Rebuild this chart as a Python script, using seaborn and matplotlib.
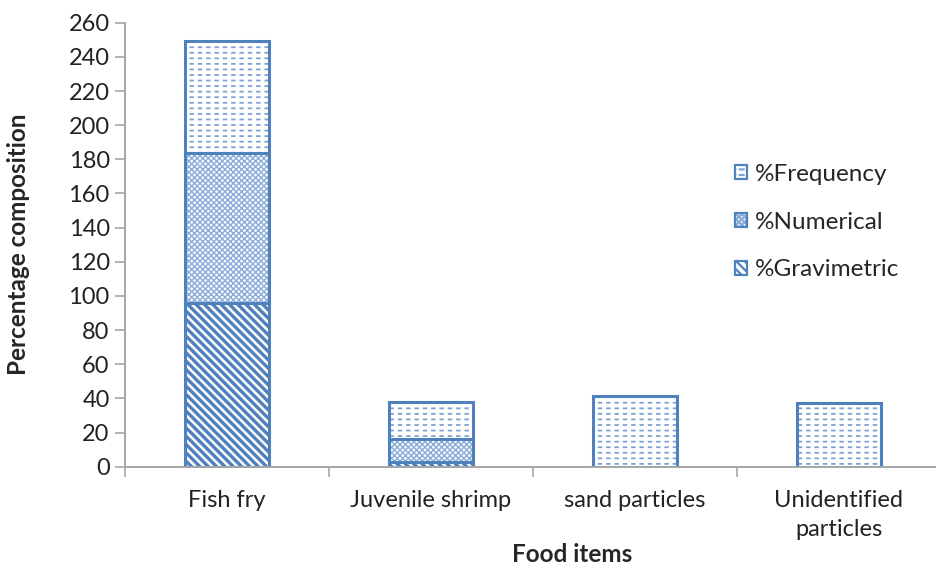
import pandas as pd
import seaborn as sns
import matplotlib.pyplot as plt
from matplotlib.patches import Patch
from matplotlib.legend_handler import HandlerTuple

food_items = ["Fish fry", "Juvenile shrimp", "sand particles",
              "Unidentified\nparticles"]
gravimetric = [95.7, 3.0, 0.0, 0.0]
numerical = [87.8, 13.5, 0.0, 0.0]
frequency = [66.0, 21.2, 41.6, 37.1]

edge_color = "#4F81BD"

sns.set_style("white")
plt.rcParams["font.family"] = ["Lato", "DejaVu Sans"]
plt.rcParams["hatch.linewidth"] = 1.6

df = pd.DataFrame({"item": food_items, "grav": gravimetric,
                   "num": numerical, "freq": frequency})
df["num_bottom"] = df["grav"]
df["freq_bottom"] = df["grav"] + df["num"]

fig = plt.figure(figsize=(9.37, 5.69), dpi=100)
ax = fig.add_axes([0.1334, 0.1798, 0.8706, 0.7803])

# column, bottom column, hatch, hatch colour, hatch width, label
layers = [("grav", None, "\\\\\\\\", "#4F81BD", 2.4, "%Gravimetric"),
          ("num", "num_bottom", "xxxxxx", "#8AACD8", 1.0, "%Numerical"),
          ("freq", "freq_bottom", "---", "#7FA2D3", 1.3, "%Frequency")]


def style_new(start, hatch, color, hlw, face="white"):
    for p in ax.patches[start:]:
        p.set_hatch(hatch)
        p.set_facecolor(face)
        p.set_edgecolor(color)
        p.set_linewidth(0)
        if hasattr(p, "set_hatch_linewidth"):
            p.set_hatch_linewidth(hlw)


def hatch_patch(face, color, hatch, hlw):
    p = Patch(facecolor=face, edgecolor=color, hatch=hatch, linewidth=0)
    if hasattr(p, "set_hatch_linewidth"):
        p.set_hatch_linewidth(hlw)
    return p


legend_handles = {}
for col, bottom_col, hatch, hcolor, hlw, label in layers:
    bottom = df[bottom_col].tolist() if bottom_col else 0
    start = len(ax.patches)
    sns.barplot(data=df, x="item", y=col, bottom=bottom, width=0.41,
                color="white", linewidth=0, saturation=1, ax=ax)
    style_new(start, hatch, hcolor, hlw)
    h = [hatch_patch("white", hcolor, hatch, hlw)]
    if col == "freq":
        # white vertical strokes break the lines into dashes
        start = len(ax.patches)
        sns.barplot(data=df, x="item", y=col, bottom=bottom, width=0.41,
                    color="white", linewidth=0, saturation=1, ax=ax)
        style_new(start, "||", "white", 2.8, face="none")
        h.append(hatch_patch("none", "white", "||", 2.8))
    start = len(ax.patches)
    sns.barplot(data=df, x="item", y=col, bottom=bottom, width=0.41,
                color="white", fill=False, edgecolor=edge_color,
                linewidth=2.2, saturation=1, ax=ax)
    for p in ax.patches[start:]:
        p.set_edgecolor(edge_color)
        if p.get_height() == 0:
            p.set_visible(False)
    h.append(Patch(facecolor="none", edgecolor=edge_color, linewidth=1.6))
    legend_handles[label] = tuple(h)

ax.set_xlim(-0.5, 3.5)
ax.set_ylim(0, 260)
ax.set_yticks(range(0, 261, 20))
ax.set_xticks([-0.5, 0.5, 1.5, 2.5, 3.5], minor=True)
ax.set_xticks(range(4))
ax.set_xticklabels(food_items, linespacing=1.45)
ax.tick_params(axis="x", which="major", length=0, labelsize=17,
               pad=17, colors="#222222")
ax.tick_params(axis="x", which="minor", length=7, width=1.2,
               color="#a6a6a6", direction="out", bottom=True)
ax.tick_params(axis="y", length=7, width=1.2, color="#a6a6a6",
               labelsize=17, labelcolor="#222222", pad=4, left=True)

sns.despine(ax=ax)
for side in ["left", "bottom"]:
    ax.spines[side].set_color("#a6a6a6")
    ax.spines[side].set_linewidth(1.4)

ax.set_xlabel("Food items", fontsize=17.5, fontweight="bold")
ax.xaxis.set_label_coords(0.548, -0.172)
ax.set_ylabel("Percentage composition", fontsize=17.5, fontweight="bold")
ax.yaxis.set_label_coords(-0.117, 0.5)

labels = [layer[-1] for layer in reversed(layers)]
fig.legend([legend_handles[lab] for lab in labels], labels,
           handler_map={tuple: HandlerTuple(ndivide=1, pad=0)},
           loc="upper left", bbox_to_anchor=(735 / 937, 1 - 164 / 569),
           frameon=False, fontsize=17.5, handlelength=0.5, handleheight=0.5,
           handletextpad=0.33, labelspacing=1.1, borderpad=0,
           borderaxespad=0)

fig.savefig("out.png", dpi=100)
